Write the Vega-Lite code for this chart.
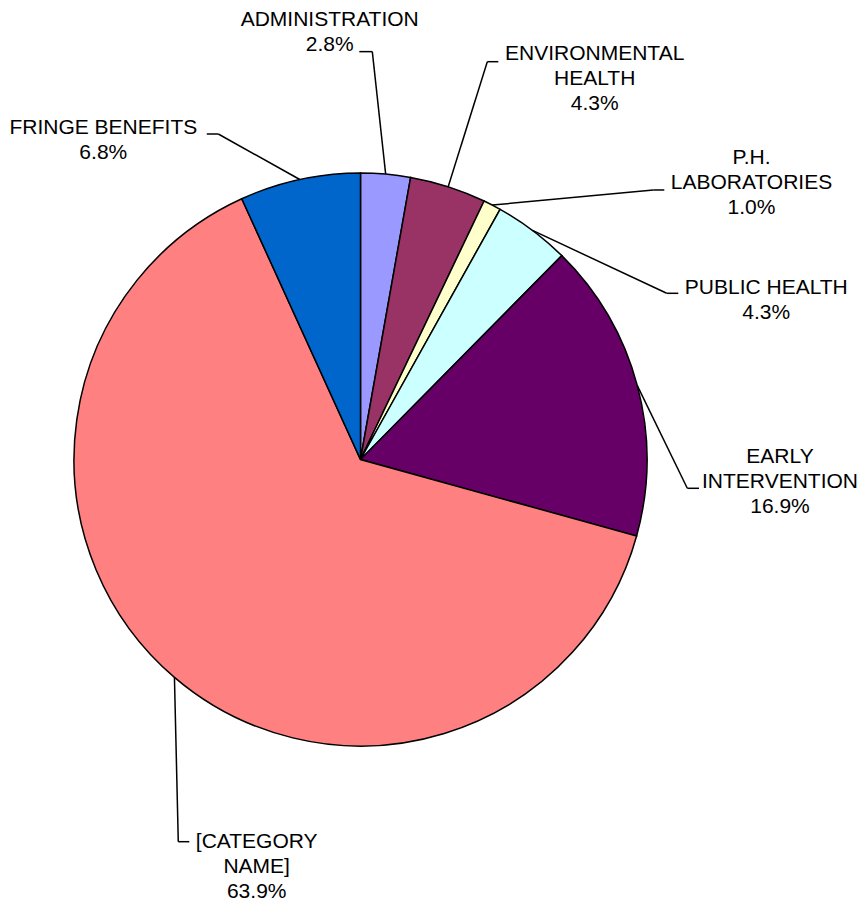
{
  "$schema": "https://vega.github.io/schema/vega-lite/v6.json",
  "width": 721,
  "height": 881,
  "autosize": {"type": "none"},
  "padding": {"left": 0, "top": 19, "right": 143, "bottom": 0},
  "background": "white",
  "config": {"view": {"stroke": null}},
  "data": {
    "values": [
      {"category": "ADMINISTRATION", "label": "ADMINISTRATION", "pct": 2.8, "order": 1, "lx": -0.1075, "ly": 1.5351, "bx": 0.0412, "by": 1.4236, "tx": -0.0042},
      {"category": "ENVIRONMENTAL HEALTH", "label": "ENVIRONMENTAL\nHEALTH", "pct": 4.3, "order": 2, "lx": 0.8174, "ly": 1.4136, "bx": 0.4426, "by": 1.3885, "tx": 0.481},
      {"category": "P.H. LABORATORIES", "label": "P.H.\nLABORATORIES", "pct": 1.0, "order": 3, "lx": 1.3647, "ly": 1.0513, "bx": 1.022, "by": 0.9407, "tx": 1.0604},
      {"category": "PUBLIC HEALTH", "label": "PUBLIC HEALTH", "pct": 4.3, "order": 4, "lx": 1.4164, "ly": 0.6003, "bx": 1.0688, "by": 0.5801, "tx": 1.1092},
      {"category": "EARLY INTERVENTION", "label": "EARLY\nINTERVENTION", "pct": 16.9, "order": 5, "lx": 1.4642, "ly": 0.0098, "bx": 1.1407, "by": -0.1005, "tx": 1.1815},
      {"category": "[CATEGORY NAME]", "label": "[CATEGORY\nNAME]", "pct": 63.9, "order": 6, "lx": -0.3623, "ly": -1.334, "bx": -0.636, "by": -1.334, "tx": -0.5976},
      {"category": "FRINGE BENEFITS", "label": "FRINGE BENEFITS", "pct": 6.8, "order": 7, "lx": -0.8977, "ly": 1.1571, "bx": -0.4963, "by": 1.1361, "tx": -0.5366}
    ]
  },
  "layer": [
    {
      "mark": {"type": "arc", "radius": 286.5, "stroke": "black", "strokeWidth": 1.5},
      "encoding": {
        "theta": {"field": "pct", "type": "quantitative", "stack": true},
        "order": {"field": "order", "type": "quantitative"},
        "color": {
          "field": "category",
          "type": "nominal",
          "scale": {
            "domain": ["ADMINISTRATION", "ENVIRONMENTAL HEALTH", "P.H. LABORATORIES", "PUBLIC HEALTH", "EARLY INTERVENTION", "[CATEGORY NAME]", "FRINGE BENEFITS"],
            "range": ["#9999FF", "#993366", "#FFFFCC", "#CCFFFF", "#660066", "#FF8080", "#0066CC"]
          },
          "legend": null
        }
      }
    },
    {
      "transform": [
        {"joinaggregate": [{"op": "sum", "field": "pct", "as": "total"}]},
        {"window": [{"op": "sum", "field": "pct", "as": "cum"}], "sort": [{"field": "order"}], "frame": [null, 0]},
        {"calculate": "2*PI*(datum.cum - datum.pct/2)/datum.total", "as": "mid"},
        {"calculate": "sin(datum.mid)", "as": "ex"},
        {"calculate": "cos(datum.mid)", "as": "ey"}
      ],
      "mark": {"type": "rule", "color": "black", "strokeWidth": 1.5},
      "encoding": {
        "x": {"field": "ex", "type": "quantitative", "scale": {"domain": [-1.2583, 1.2583], "nice": false, "zero": false}, "axis": null},
        "y": {"field": "ey", "type": "quantitative", "scale": {"domain": [-1.5375, 1.5375], "nice": false, "zero": false}, "axis": null},
        "x2": {"field": "bx"},
        "y2": {"field": "by"}
      }
    },
    {
      "mark": {"type": "rule", "color": "black", "strokeWidth": 1.5},
      "encoding": {
        "x": {"field": "bx", "type": "quantitative"},
        "y": {"field": "by", "type": "quantitative"},
        "x2": {"field": "tx"}
      }
    },
    {
      "transform": [
        {"calculate": "datum.label + '\\n' + format(datum.pct, '.1f') + '%'", "as": "txt"}
      ],
      "mark": {"type": "text", "lineBreak": "\n", "align": "center", "baseline": "middle", "font": "Liberation Sans", "fontSize": 21, "lineHeight": 25, "color": "black"},
      "encoding": {
        "x": {"field": "lx", "type": "quantitative"},
        "y": {"field": "ly", "type": "quantitative"},
        "text": {"field": "txt"}
      }
    }
  ]
}
